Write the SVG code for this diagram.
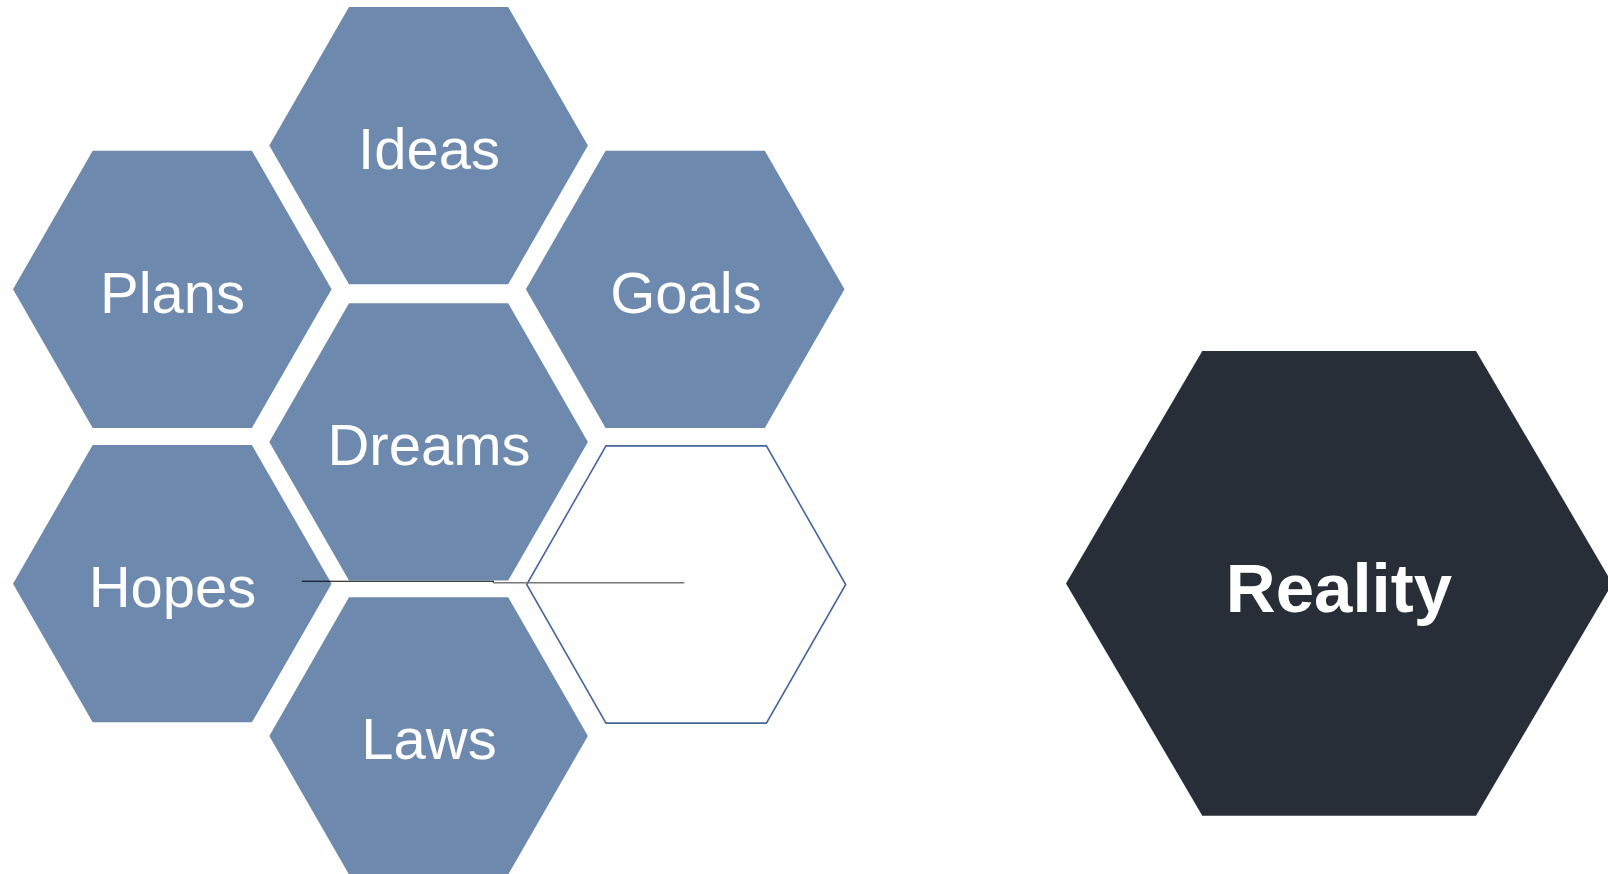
<svg xmlns="http://www.w3.org/2000/svg" width="1608" height="874" viewBox="0 0 1608 874">
  <style>
    .hex { fill: #6e89ae; }
    .empty { fill: #ffffff; stroke: #44679c; stroke-width: 1.6; }
    .real { fill: #282e37; }
    .lbl { font-family: "Liberation Sans", Arial, sans-serif; font-size: 58px; fill: #ffffff; text-anchor: middle; }
    .big { font-family: "Liberation Sans", Arial, sans-serif; font-size: 69px; font-weight: bold; fill: #ffffff; text-anchor: middle; }
  </style>
  <rect width="1608" height="874" fill="#ffffff"/>
  <g id="ideas">
    <polygon class="hex" points="349,7 508.2,7 587.9,145.6 508.2,284.2 349,284.2 269.3,145.6"/>
    <text class="lbl" x="429" y="169.3">Ideas</text>
  </g>
  <g id="plans">
    <polygon class="hex" points="92.7,150.7 251.9,150.7 331.6,289.3 251.9,427.9 92.7,427.9 13,289.3"/>
    <text class="lbl" x="172.5" y="312.8">Plans</text>
  </g>
  <g id="goals">
    <polygon class="hex" points="605.6,150.7 764.8,150.7 844.5,289.3 764.8,427.9 605.6,427.9 525.9,289.3"/>
    <text class="lbl" x="686" y="312.8">Goals</text>
  </g>
  <g id="dreams">
    <polygon class="hex" points="349,303.3 508.2,303.3 587.9,441.9 508.2,580.5 349,580.5 269.3,441.9"/>
    <text class="lbl" x="429" y="465.4">Dreams</text>
  </g>
  <g id="hopes">
    <polygon class="hex" points="92.7,445.1 251.9,445.1 331.6,583.7 251.9,722.3 92.7,722.3 13,583.7"/>
    <text class="lbl" x="172.5" y="607.2">Hopes</text>
  </g>
  <g id="empty">
    <polygon class="empty" points="606,445.9 766.4,445.9 845.7,584.5 766.4,723.1 606,723.1 526.7,584.5"/>
  </g>
  <g id="laws">
    <polygon class="hex" points="349,597.3 508.2,597.3 587.9,735.9 508.2,874.5 349,874.5 269.3,735.9"/>
    <text class="lbl" x="429" y="759.4">Laws</text>
  </g>
  <g id="reality">
    <polygon class="real" points="1202.3,351 1476,351 1612.4,583.4 1476,815.7 1202.3,815.7 1066,583.4"/>
    <text class="big" x="1339" y="611.7">Reality</text>
  </g>
  <g id="connectors" fill="none">
    <polyline points="302,581.3 493.3,581.3 493.3,582.7" stroke="#000000" stroke-width="1.1"/>
    <line x1="493.3" y1="582.7" x2="684.3" y2="582.7" stroke="#777777" stroke-width="1.5"/>
  </g>
</svg>
